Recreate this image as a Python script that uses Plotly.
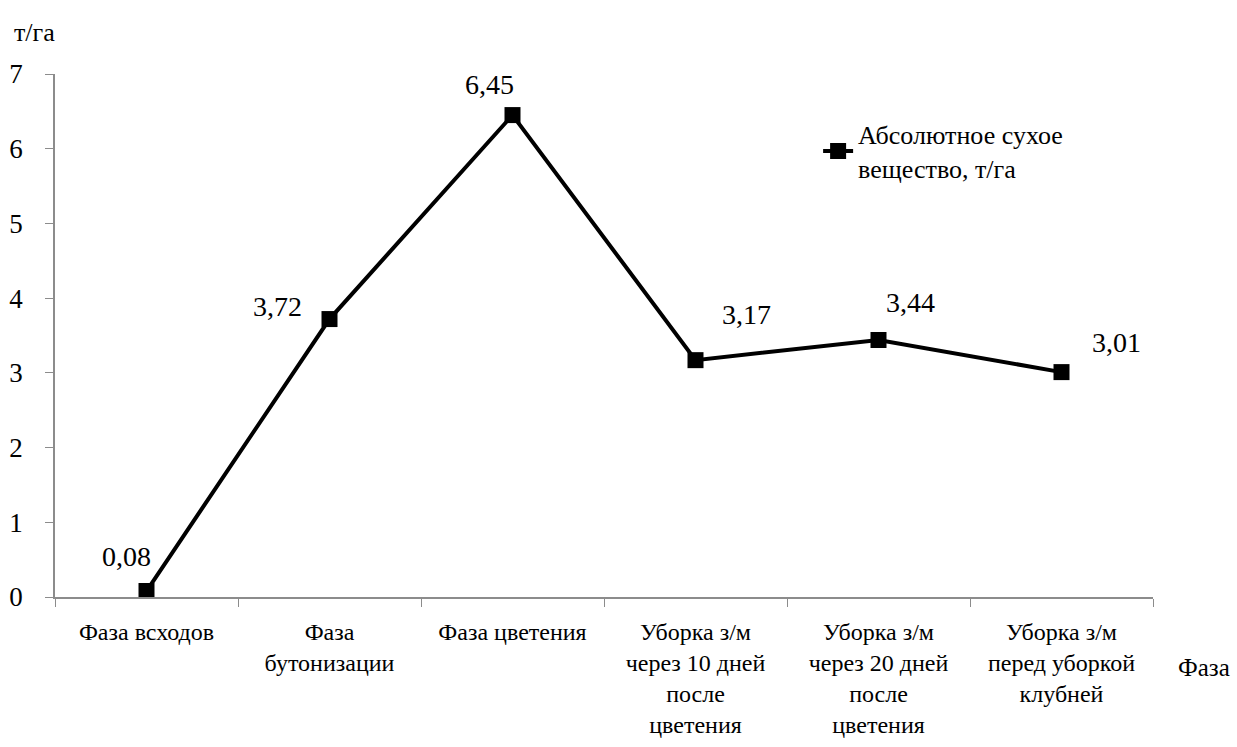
import plotly.graph_objects as go

# Фазы развития и накопление абсолютно сухого вещества
categories = [
    "Фаза всходов",
    "Фаза<br>бутонизации",
    "Фаза цветения",
    "Уборка з/м<br>через 10 дней<br>после<br>цветения",
    "Уборка з/м<br>через 20 дней<br>после<br>цветения",
    "Уборка з/м<br>перед уборкой<br>клубней",
]
dry_matter = [0.08, 3.72, 6.45, 3.17, 3.44, 3.01]
value_labels = ["0,08", "3,72", "6,45", "3,17", "3,44", "3,01"]
series_name = "Абсолютное сухое<br>вещество, т/га"
y_ticks = [0, 1, 2, 3, 4, 5, 6, 7]

# pixel offsets of each value label relative to its marker
label_dx = [-20, -52, -23, 51, 32, 55]
label_dy = [35, 13, 31, 46, 37, 30]

FONT = "Liberation Serif"
AXIS_COLOR = "#8c8c8c"

fig = go.Figure()
fig.add_trace(go.Scatter(
    x=categories,
    y=dry_matter,
    mode="lines+markers",
    name=series_name,
    line=dict(color="black", width=4),
    marker=dict(symbol="square", size=16, color="black"),
))

for cat, val, txt, dx, dy in zip(categories, dry_matter, value_labels, label_dx, label_dy):
    fig.add_annotation(
        x=cat, y=val, text=txt, showarrow=False,
        xshift=dx, yshift=dy,
        font=dict(family=FONT, size=28, color="black"),
    )

fig.add_annotation(
    xref="paper", yref="paper", x=-0.039, y=1.08,
    text="т/га", showarrow=False, xanchor="left", yanchor="middle",
    font=dict(family=FONT, size=26, color="black"),
)
fig.add_annotation(
    xref="paper", yref="paper", x=1.021, y=-0.134,
    text="Фаза", showarrow=False, xanchor="left", yanchor="middle",
    font=dict(family=FONT, size=25, color="black"),
)

fig.update_layout(
    width=1237, height=747,
    margin=dict(l=55, r=84, t=74, b=150, autoexpand=False),
    paper_bgcolor="white", plot_bgcolor="white",
    font=dict(family=FONT, color="black"),
    showlegend=True,
    legend=dict(
        x=0.695, y=0.93, xanchor="left", yanchor="top",
        bgcolor="rgba(0,0,0,0)",
        font=dict(family=FONT, size=26, color="black"),
        itemwidth=30,
    ),
    xaxis=dict(
        type="category",
        range=[-0.5, 5.5],
        automargin=False,
        showline=True, linecolor=AXIS_COLOR, linewidth=1.5,
        ticks="outside", tickson="boundaries", ticklen=8, tickcolor=AXIS_COLOR,
        showgrid=False, zeroline=False,
        ticklabelstandoff=12,
        tickfont=dict(family=FONT, size=24, color="black"),
    ),
    yaxis=dict(
        range=[0, 7],
        automargin=False,
        tickvals=y_ticks,
        ticktext=[str(v) for v in y_ticks],
        showline=True, linecolor=AXIS_COLOR, linewidth=1.5,
        ticks="outside", ticklen=8, tickcolor=AXIS_COLOR,
        showgrid=False, zeroline=False,
        ticklabelstandoff=17,
        tickfont=dict(family=FONT, size=27, color="black"),
    ),
)

fig.write_html("out.html")
